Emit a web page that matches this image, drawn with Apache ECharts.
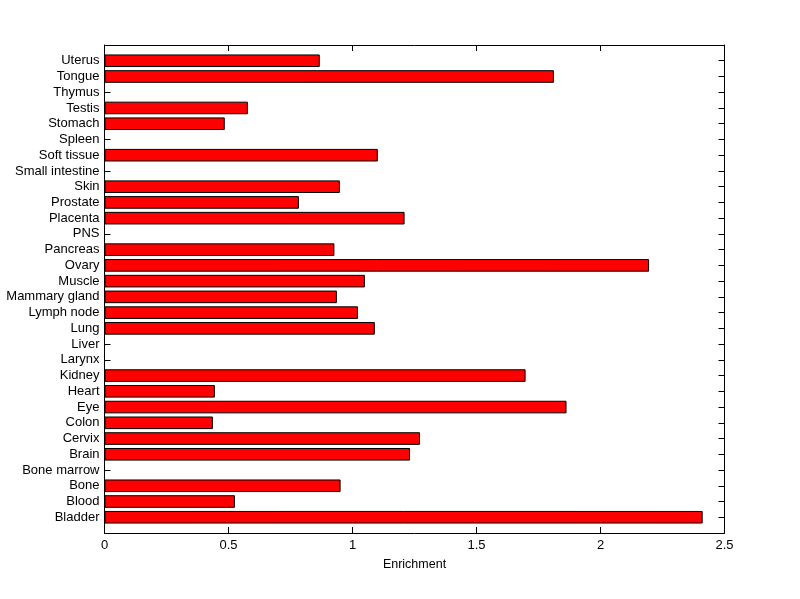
<!DOCTYPE html>
<html>
<head>
<meta charset="utf-8">
<script src="https://cdn.jsdelivr.net/npm/echarts@6/dist/echarts.min.js"></script>
<style>html,body{margin:0;padding:0;background:#fff;}#c{width:800px;height:599px;}</style>
</head>
<body>
<div id="c"></div>
<script>
const categories = ['Bladder','Blood','Bone','Bone marrow','Brain','Cervix','Colon','Eye','Heart','Kidney','Larynx','Liver','Lung','Lymph node','Mammary gland','Muscle','Ovary','Pancreas','PNS','Placenta','Prostate','Skin','Small intestine','Soft tissue','Spleen','Stomach','Testis','Thymus','Tongue','Uterus'];
const enrichment = [2.412,0.526,0.952,0,1.232,1.272,0.437,1.863,0.445,1.698,0,0,1.090,1.022,0.937,1.050,2.196,0.927,0,1.210,0.784,0.949,0,1.102,0,0.485,0.578,0,1.812,0.868];
const xTicks = [0,0.5,1,1.5,2,2.5];
const xLabel = 'Enrichment';

// pad category axis with empty slots at both ends (MATLAB-style limits 0..N+1)
const cats = [''].concat(categories, ['']);
const vals = [null].concat(enrichment.map(v => v === 0 ? null : v), [null]);

const font = 'Liberation Sans, Arial, sans-serif';
const chart = echarts.init(document.getElementById('c'), null, {renderer:'canvas'});
const tickInt = (i, v) => v !== '';
chart.setOption({
  animation: false,
  backgroundColor: '#fff',
  grid: {left: 104.5, right: 75.5, top: 45, bottom: 66, containLabel: false},
  xAxis: [{
    type: 'value', min: xTicks[0], max: xTicks[xTicks.length-1], interval: 0.5,
    name: xLabel, nameLocation: 'middle', nameGap: 25,
    nameTextStyle: {color:'#000', fontSize: 12.5, fontFamily: font},
    axisLine: {show:true, lineStyle:{color:'#000', width:1}},
    axisTick: {show:true, inside:true, length:6, lineStyle:{color:'#000'}},
    axisLabel: {color:'#000', fontSize: 13, fontFamily: font, margin: 6},
    splitLine: {show:false}
  },{
    type: 'value', position: 'top', min: xTicks[0], max: xTicks[xTicks.length-1], interval: 0.5,
    axisLine: {show:true, lineStyle:{color:'#000', width:1}},
    axisTick: {show:true, inside:true, length:6, lineStyle:{color:'#000'}},
    axisLabel: {show:false}, splitLine: {show:false}
  }],
  yAxis: [{
    type: 'category', data: cats, boundaryGap: false,
    axisLine: {show:true, onZero:false, lineStyle:{color:'#000', width:1}},
    axisTick: {show:true, inside:true, length:6, interval: tickInt, lineStyle:{color:'#000'}},
    axisLabel: {color:'#000', fontSize: 13, fontFamily: font, margin: 5, interval: 0},
    splitLine: {show:false}
  },{
    type: 'category', data: cats, boundaryGap: false, position: 'right',
    axisLine: {show:true, onZero:false, lineStyle:{color:'#000', width:1}},
    axisTick: {show:true, inside:true, length:6, interval: tickInt, lineStyle:{color:'#000'}},
    axisLabel: {show:false}, splitLine: {show:false}
  }],
  series: [{
    type: 'bar', data: vals, xAxisIndex: 0, yAxisIndex: 0,
    barWidth: 12.6,
    itemStyle: {color:'#ff0000', borderColor:'#000', borderWidth:1},
    z: 1
  }]
});
</script>
</body>
</html>
